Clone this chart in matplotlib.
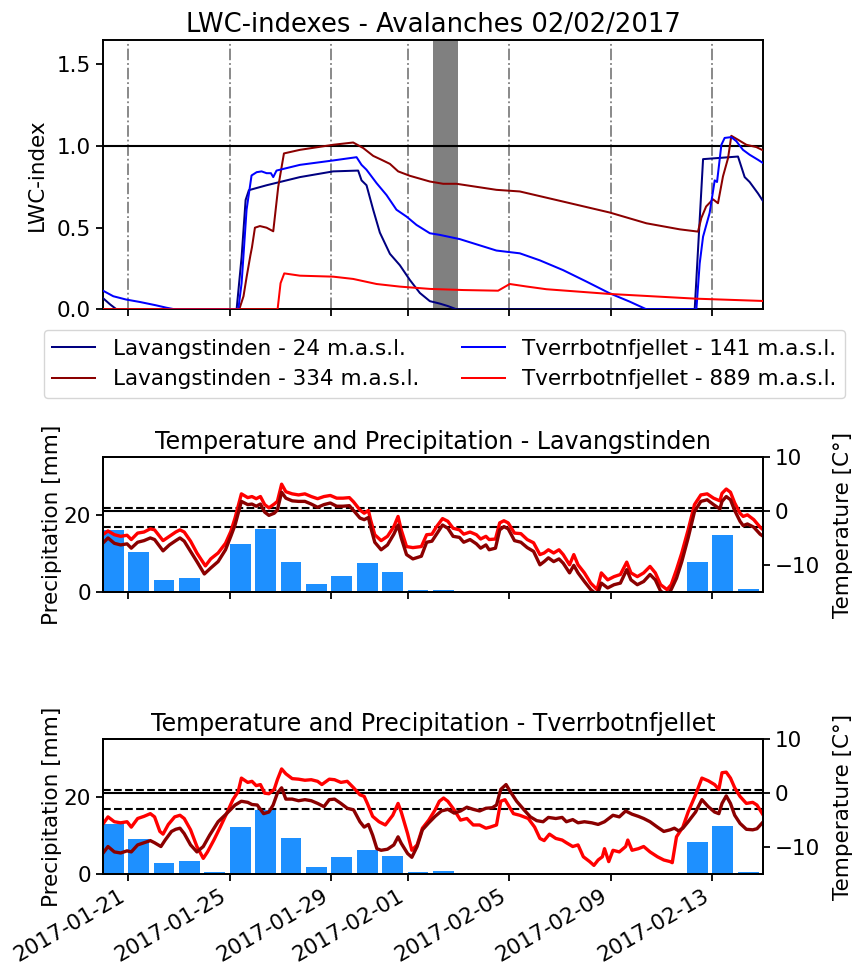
import matplotlib
matplotlib.use("Agg")
import matplotlib.pyplot as plt
import matplotlib.dates as mdates
import pandas as pd

plt.rcParams['font.family'] = ['DejaVu Sans']
plt.rcParams['font.size'] = 15.5
plt.rcParams['axes.linewidth'] = 1.4
plt.rcParams['xtick.major.size'] = 4.8
plt.rcParams['ytick.major.size'] = 4.8
plt.rcParams['xtick.major.width'] = 1.3
plt.rcParams['ytick.major.width'] = 1.3

START = pd.Timestamp('2017-01-20')
END = pd.Timestamp('2017-02-15')
AVALANCHE = (pd.Timestamp('2017-02-02'), pd.Timestamp('2017-02-03'))

# ---- LWC index series: (hours since 2017-01-20 00:00, LWC index) ----
lwc_lav24 = [(0, 0.07), (7, 0.03), (13, 0), (126.5, 0), (131.2, 0.32), (135.0, 0.67), (138.1, 0.73),
             (154.8, 0.76), (186.3, 0.81), (217.7, 0.845), (241.3, 0.85), (244.5, 0.79), (249.2, 0.76),
             (255.5, 0.61), (261.8, 0.47), (271.3, 0.34), (280.7, 0.27), (290.1, 0.18), (299.6, 0.10),
             (309, 0.05), (318.4, 0.035), (326, 0.02), (334.2, 0), (559.2, 0), (567.1, 0.92),
             (600.1, 0.936), (606.4, 0.81), (611.1, 0.78), (619.0, 0.71), (624, 0.66)]
lwc_tv141 = [(0, 0.115), (10, 0.08), (22, 0.06), (35, 0.045), (50, 0.025), (60, 0.01), (68, 0),
             (128.1, 0), (131.2, 0.16), (135.9, 0.61), (140.6, 0.82), (145.4, 0.84), (150.1, 0.845),
             (154.8, 0.834), (158.9, 0.834), (161.1, 0.81), (164.2, 0.85), (186.3, 0.885), (217.7, 0.912),
             (239.8, 0.932), (244.5, 0.885), (249.2, 0.855), (258.7, 0.773), (268.1, 0.70), (277.5, 0.61),
             (287.0, 0.568), (296.4, 0.517), (309, 0.466), (318.4, 0.456), (337.3, 0.43), (371.9, 0.36),
             (394.0, 0.343), (412.9, 0.30), (434.9, 0.24), (456.9, 0.17), (478.9, 0.098), (497.8, 0.047),
             (513.6, 0), (560.8, 0), (563.9, 0.28), (567.1, 0.445), (573.3, 0.59), (578.1, 0.79),
             (580.3, 0.78), (584.4, 1.008), (587.5, 1.05), (593.8, 1.055), (598.5, 1.03), (604.8, 0.977),
             (611.1, 0.947), (619.0, 0.916), (624, 0.895)]
lwc_lav334 = [(0, 0), (129.0, 0), (133, 0.08), (136, 0.2), (139.5, 0.33), (141, 0.38), (143.8, 0.5),
              (148.5, 0.51), (154.8, 0.5), (161.1, 0.478), (165.8, 0.75), (171.2, 0.955), (186.3, 0.977),
              (217.7, 1.008), (236.6, 1.022), (246.1, 0.988), (255.5, 0.94), (263.4, 0.916), (271.3, 0.891),
              (279.1, 0.845), (290.1, 0.818), (309, 0.783), (321.6, 0.769), (334.2, 0.769), (371.9, 0.732),
              (394.0, 0.722), (434.9, 0.66), (478.9, 0.593), (513.6, 0.527), (545.0, 0.49), (562.3, 0.476),
              (565.5, 0.56), (570, 0.63), (576.5, 0.674), (581.2, 0.65), (585.9, 0.814), (590.7, 0.926),
              (593.8, 1.063), (600.1, 1.039), (608.0, 1.008), (617.4, 0.994), (624, 0.973)]
lwc_tv889 = [(0, 0), (165.2, 0), (168.0, 0.16), (171.5, 0.22), (186.3, 0.206), (217.7, 0.20),
             (236.6, 0.186), (258.7, 0.155), (280.7, 0.139), (309, 0.125), (340.5, 0.118), (373.5, 0.114),
             (384.5, 0.155), (400, 0.14), (419.1, 0.123), (478.9, 0.094), (560.8, 0.065), (624, 0.051)]

# ---- Temperature series: (hours since 2017-01-20 00:00, deg C) ----
temp_lav_red = [(0, -4.4), (5, -3.7), (11, -4.4), (17, -4.7), (23, -4.5), (27, -5.3), (33, -4.1), (39, -3.9),
                (45, -3.3), (49, -3.5), (57, -5.5), (63, -4.7), (69, -3.9), (73, -3.5), (77, -3.9), (83, -5.6),
                (89, -7.8), (97, -10.2), (102, -8.9), (109, -7.8), (116, -6.0), (121, -3.8), (125, -1.3),
                (131, 3.2), (137, 2.5), (141, 2.7), (145, 2.3), (149, 2.7), (153, 1.2), (157, 0.6), (162, 1.3),
                (165, 1.8), (169, 5.0), (173, 3.6), (179, 3.2), (185, 3.0), (191, 3.2), (197, 2.7), (203, 2.3),
                (209, 2.7), (215, 2.9), (221, 2.4), (227, 2.4), (233, 2.5), (237, 1.7), (243, 0.2), (247, -0.4),
                (251, 0.1), (253, -1.6), (257, -4.4), (263, -5.5), (269, -4.7), (275, -2.9), (279, -1.0),
                (282, -3.5), (287, -6.6), (293, -6.8), (301, -6.6), (306, -4.4), (311, -4.3), (315, -3.0),
                (321, -1.4), (326, -1.9), (331, -3.2), (337, -3.5), (341, -4.3), (347, -3.9), (353, -4.4),
                (357, -5.2), (362, -4.7), (365, -5.3), (371, -5.2), (375, -2.2), (379, -1.8), (383, -2.2),
                (389, -4.1), (395, -4.2), (401, -5.3), (407, -5.9), (413, -8.1), (417, -7.8), (421, -7.2),
                (426, -7.8), (431, -7.2), (435, -8.1), (441, -10.0), (445, -8.1), (449, -10.0), (455, -11.5),
                (461, -13.4), (467, -14.6), (471, -11.5), (477, -12.8), (483, -12.2), (489, -11.8), (495, -9.5),
                (499, -11.5), (505, -12.2), (511, -11.5), (517, -10.3), (522, -11.5), (527, -13.7), (533, -14.6),
                (537, -13.7), (542, -10.9), (547, -7.8), (553, -3.5), (559, 1.2), (565, 3.0), (571, 3.2),
                (577, 2.4), (583, 1.9), (585, 3.3), (589, 4.1), (593, 3.5), (597, 1.5), (602, -0.4), (605, -1.0),
                (609, -0.7), (615, -1.6), (621, -3.0), (624, -3.5)]
temp_lav_dark = [(0, -6.0), (5, -5.0), (11, -6.0), (17, -6.3), (23, -6.1), (27, -6.9), (33, -5.8), (39, -5.5),
                 (45, -5.0), (49, -5.3), (57, -7.4), (63, -6.3), (69, -5.5), (73, -5.0), (77, -5.6), (83, -7.5),
                 (89, -9.4), (96, -11.7), (102, -10.6), (109, -9.4), (116, -7.2), (121, -4.7), (125, -2.6),
                 (131, 1.8), (137, 1.2), (141, 1.3), (145, 0.9), (149, 1.3), (153, -0.2), (157, -0.8), (162, -0.4),
                 (165, 0.2), (169, 3.5), (173, 2.4), (179, 1.9), (185, 1.8), (191, 1.8), (197, 1.3), (203, 0.7),
                 (209, 1.2), (215, 1.5), (221, 0.9), (227, 0.9), (233, 1.0), (237, 0.1), (243, -1.3), (247, -1.6),
                 (251, -1.2), (253, -2.9), (257, -5.8), (263, -7.2), (269, -6.3), (275, -4.3), (279, -2.6),
                 (282, -5.0), (287, -8.1), (293, -8.9), (301, -8.4), (306, -5.8), (311, -5.6), (315, -4.4),
                 (321, -2.6), (326, -3.2), (331, -4.7), (337, -4.9), (341, -5.8), (347, -5.3), (353, -6.1),
                 (357, -6.9), (362, -6.3), (365, -7.2), (371, -6.9), (375, -3.5), (379, -2.9), (383, -3.3),
                 (389, -5.5), (395, -5.8), (401, -6.8), (407, -7.5), (413, -10.0), (417, -9.4), (421, -8.7),
                 (426, -9.4), (431, -8.9), (435, -9.7), (441, -11.5), (445, -10.1), (449, -11.5), (455, -13.1),
                 (461, -14.6), (467, -15.6), (471, -13.4), (477, -14.3), (483, -13.7), (489, -13.4), (495, -10.9),
                 (499, -12.8), (505, -13.7), (511, -13.1), (517, -11.8), (522, -12.8), (527, -14.9), (533, -15.6),
                 (537, -14.6), (542, -12.5), (547, -9.4), (553, -5.0), (559, -0.1), (565, 1.8), (571, 2.1),
                 (577, 1.2), (583, 0.4), (585, 1.8), (589, 2.7), (593, 2.1), (597, 0.1), (602, -1.9), (605, -2.7),
                 (609, -2.4), (615, -3.0), (621, -4.3), (624, -4.7)]
temp_tv_red = [(0, -5.8), (5, -4.4), (11, -5.3), (17, -5.5), (23, -5.3), (27, -6.3), (33, -4.7), (39, -4.3),
               (45, -3.8), (49, -4.4), (54, -7.1), (57, -7.6), (62, -5.8), (68, -4.4), (73, -4.1), (77, -4.7),
               (83, -6.8), (89, -9.9), (95, -12.1), (99, -10.9), (105, -8.7), (111, -6.3), (117, -3.8),
               (123, -1.2), (128, 0.3), (131, 2.8), (137, 2.0), (141, 2.2), (145, 1.4), (149, 1.6), (153, 0.0),
               (157, -0.1), (162, 0.7), (165, 2.5), (169, 4.5), (173, 3.6), (179, 2.7), (185, 2.6), (191, 2.4),
               (197, 2.5), (203, 2.2), (207, 1.6), (214, 2.6), (219, 2.5), (225, 2.0), (231, 2.2), (237, 1.0),
               (243, -0.3), (247, -0.6), (250, -1.9), (255, -4.3), (261, -5.3), (267, -5.9), (274, -4.1),
               (279, -1.9), (282, -3.5), (288, -7.5), (292, -10.6), (297, -9.6), (302, -6.5), (308, -5.0),
               (314, -3.1), (318, -1.5), (322, -0.9), (326, -1.5), (332, -3.1), (338, -5.0), (344, -4.7),
               (350, -5.9), (356, -5.9), (362, -6.5), (366, -6.3), (372, -5.9), (376, -1.5), (380, -1.2),
               (384, -2.5), (388, -3.8), (394, -4.1), (402, -4.7), (408, -6.3), (413, -8.4), (417, -8.8),
               (422, -7.6), (428, -8.4), (434, -8.7), (438, -9.2), (444, -9.9), (449, -9.6), (454, -11.8),
               (460, -12.7), (464, -13.4), (468, -12.4), (472, -11.8), (474, -10.3), (478, -12.7), (482, -10.6),
               (488, -10.9), (494, -9.9), (496, -8.7), (500, -10.6), (506, -10.3), (511, -9.9), (517, -10.9),
               (524, -11.8), (530, -12.4), (536, -12.7), (538, -12.9), (542, -8.1), (548, -6.3), (553, -3.5),
               (560, -0.3), (566, 2.8), (572, 2.3), (578, 1.6), (582, 0.7), (585, 3.8), (589, 3.9), (593, 2.8),
               (597, 1.0), (602, -0.6), (608, -1.9), (614, -1.7), (618, -2.2), (624, -4.1)]
temp_tv_dark = [(0, -11.2), (5, -9.9), (11, -10.9), (17, -11.1), (23, -10.7), (27, -10.9), (33, -9.6),
                (39, -9.2), (45, -8.8), (49, -9.2), (55, -9.9), (59, -8.7), (65, -7.1), (69, -6.7), (73, -6.5),
                (77, -7.5), (83, -9.6), (89, -10.9), (95, -9.9), (101, -7.8), (109, -5.3), (117, -3.8),
                (125, -2.2), (131, -1.5), (137, -1.7), (141, -2.1), (146, -2.2), (152, -3.8), (157, -3.5),
                (161, -2.2), (165, 0.0), (169, 1.0), (173, -1.1), (179, -1.1), (185, -1.4), (191, -1.2),
                (197, -1.4), (203, -1.9), (209, -2.5), (214, -1.2), (219, -1.1), (225, -1.9), (231, -2.8),
                (237, -3.1), (243, -5.3), (247, -6.3), (251, -5.8), (255, -7.8), (259, -10.3), (263, -10.6),
                (269, -10.4), (275, -9.6), (279, -8.1), (282, -9.3), (288, -11.2), (292, -11.9), (297, -9.9),
                (302, -6.8), (308, -5.5), (314, -4.3), (320, -3.3), (326, -3.0), (332, -3.7), (338, -3.3),
                (344, -2.6), (350, -3.0), (356, -3.3), (362, -2.8), (368, -2.7), (372, -2.2), (376, 0.7),
                (381, 1.6), (385, 0.3), (391, -1.5), (398, -3.1), (404, -4.4), (410, -5.1), (416, -5.3),
                (421, -4.5), (428, -4.7), (434, -4.5), (438, -5.3), (444, -4.9), (449, -5.5), (455, -5.3),
                (462, -5.5), (468, -5.8), (474, -5.3), (478, -4.7), (482, -4.1), (488, -4.4), (494, -3.3),
                (500, -3.9), (506, -4.3), (511, -4.7), (517, -5.3), (524, -6.3), (530, -7.1), (536, -6.8),
                (540, -6.5), (544, -7.0), (548, -6.5), (553, -5.3), (560, -3.5), (566, -1.2), (572, -2.5),
                (578, -3.5), (582, -3.8), (585, -1.9), (589, -0.5), (593, -1.9), (597, -4.1), (602, -5.6),
                (608, -6.7), (614, -6.8), (618, -6.6), (624, -5.3)]

# ---- Daily precipitation [mm], 2017-01-20 .. 2017-02-14 ----
precip_days = pd.date_range('2017-01-20', '2017-02-14', freq='D')
precip_lav = [16.1, 10.3, 3.0, 3.6, 0.1, 12.4, 16.3, 7.7, 2.0, 4.1, 7.5, 5.1, 0.4,
              0.4, 0, 0, 0, 0, 0, 0, 0, 0, 0, 7.7, 14.8, 0.6]
precip_tv = [13.0, 9.1, 2.9, 3.4, 0.5, 12.2, 16.6, 9.4, 1.9, 4.5, 6.2, 4.8, 0.5,
             0.8, 0, 0, 0, 0, 0, 0, 0, 0, 0, 8.3, 12.5, 0.5]

lwc_series = [
    ("Lavangstinden - 24 m.a.s.l.", lwc_lav24, "navy"),
    ("Lavangstinden - 334 m.a.s.l.", lwc_lav334, "darkred"),
    ("Tverrbotnfjellet - 141 m.a.s.l.", lwc_tv141, "blue"),
    ("Tverrbotnfjellet - 889 m.a.s.l.", lwc_tv889, "red"),
]


def unpack(pairs):
    t = [START + pd.Timedelta(hours=h) for h, _ in pairs]
    v = [val for _, val in pairs]
    return t, v


W, H = 854, 968
fig = plt.figure(figsize=(W / 100, H / 100), dpi=100)


def box(l, t, r, b):
    return [l / W, 1 - b / H, (r - l) / W, (b - t) / H]


ax1 = fig.add_axes(box(102.7, 40, 763.3, 309.3))
ax2 = fig.add_axes(box(102.7, 457.3, 763.3, 591.7), sharex=ax1)
ax3 = fig.add_axes(box(102.7, 739.3, 763.3, 874), sharex=ax1)

# ---- top panel ----
ax1.axvspan(AVALANCHE[0], AVALANCHE[1], color='grey', lw=0, zorder=1)
handles = {}
for label, pairs, col in lwc_series:
    t, v = unpack(pairs)
    h, = ax1.plot(t, v, color=col, lw=1.45, label=label, zorder=3)
    handles[label] = h
ax1.axhline(1.0, color='black', lw=1.5, zorder=2)
ax1.set_ylim(0, 1.65)
ax1.set_yticks([0, 0.5, 1.0, 1.5])
ax1.set_ylabel('LWC-index', labelpad=7)
ax1.set_title('LWC-indexes - Avalanches 02/02/2017', fontsize=18.6, pad=6)
ax1.xaxis.grid(True, linestyle='-.', color='grey', lw=1.3)
ax1.set_axisbelow(True)

leg_order = ["Lavangstinden - 24 m.a.s.l.", "Lavangstinden - 334 m.a.s.l.",
             "Tverrbotnfjellet - 141 m.a.s.l.", "Tverrbotnfjellet - 889 m.a.s.l."]
fig.legend([handles[k] for k in leg_order], leg_order, ncol=2, loc='center',
           bbox_to_anchor=(444.5 / W, 1 - 364 / H), fontsize=15.5, columnspacing=2.0)


def temp_panel(ax, precip, red, dark, title):
    ax.bar(precip_days, precip, width=0.82, align='edge', color='dodgerblue', zorder=2)
    ax.set_ylim(0, 35)
    ax.set_yticks([0, 20])
    ax.set_ylabel('Precipitation [mm]', labelpad=1)
    ax.set_title(title, fontsize=17.1, pad=6)
    tw = ax.twinx()
    tw.axhline(0, color='black', lw=1.5)
    tw.axhline(0.5, color='black', lw=1.5, ls='--')
    tw.axhline(-3, color='black', lw=1.5, ls='--')
    t, v = unpack(red)
    tw.plot(t, v, color='red', lw=2.4)
    t, v = unpack(dark)
    tw.plot(t, v, color='darkred', lw=2.4)
    tw.set_ylim(-15, 10)
    tw.set_yticks([-10, 0, 10])
    tw.set_ylabel('Temperature [C°]', labelpad=9)
    return tw


temp_panel(ax2, precip_lav, temp_lav_red, temp_lav_dark,
           'Temperature and Precipitation - Lavangstinden')
temp_panel(ax3, precip_tv, temp_tv_red, temp_tv_dark,
           'Temperature and Precipitation - Tverrbotnfjellet')

ax1.set_xlim(START, END)
ax3.xaxis.set_major_locator(mdates.DayLocator(bymonthday=[1, 5, 9, 13, 17, 21, 25, 29]))
ax3.xaxis.set_major_formatter(mdates.DateFormatter('%Y-%m-%d'))
for a in (ax1, ax2):
    plt.setp(a.get_xticklabels(), visible=False)
for lab in ax3.get_xticklabels():
    lab.set_rotation(30)
    lab.set_ha('right')

fig.savefig('out.png', dpi=100)
